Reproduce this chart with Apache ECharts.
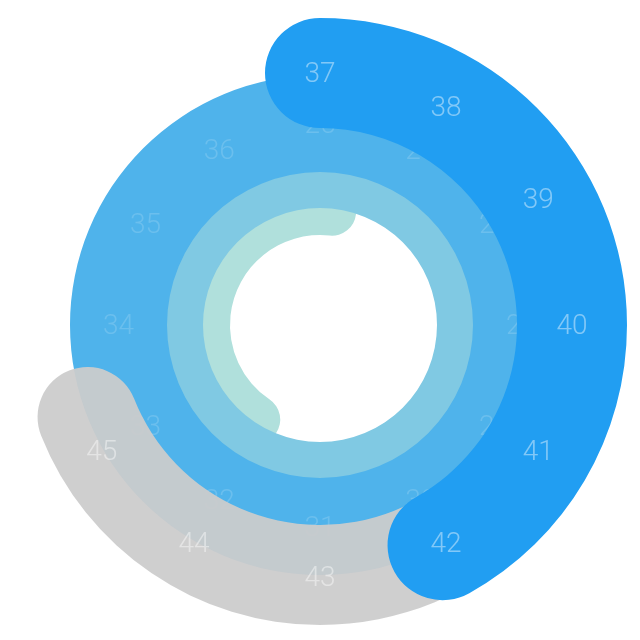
<!DOCTYPE html>
<html>
<head>
<meta charset="utf-8">
<script src="https://cdn.jsdelivr.net/npm/echarts@6/dist/echarts.min.js"></script>
<style>
  html, body { margin: 0; padding: 0; background: #fff; }
  #chart { width: 640px; height: 640px; }
</style>
</head>
<body>
<div id="chart"></div>
<script>
  // angle values are in label steps: one step = 30deg, 12 steps per turn
  const stepsPerTurn = 12;
  const fullRing = 12;

  const tealValue = 5.07;
  const tealStartAngle = 236;
  const trackValue = 8.28;
  const mainValue = 5.03;

  const midLabels = ['25', '26', '27', '28', '29', '30', '31', '32', '33', '34', '35', '36'];
  const outerLabels = ['37', '38', '39', '40', '41', '42', '43', '44', '45'];

  const center = [320, 325];

  const rings = [
    { radius: [90, 138], start: tealStartAngle },  // teal, mostly under the pale ring
    { radius: [117, 170], start: 90 },
    { radius: [153, 250], start: 90 },
    { radius: [200, 300], start: 90 },             // grey track
    { radius: [197, 307], start: 90 }              // main blue
  ];

  const labelFont = { fontSize: 28, fontFamily: 'Roboto', fontWeight: 300, offset: [0, 2] };

  function barSeries(idx, value, color, z, roundCap) {
    return {
      type: 'bar',
      coordinateSystem: 'polar',
      polarIndex: idx,
      data: [value],
      roundCap: roundCap,
      barCategoryGap: '0%',
      itemStyle: { color: color },
      z: z,
      silent: true
    };
  }

  function labelSeries(idx, labels, color, z) {
    return {
      type: 'scatter',
      coordinateSystem: 'polar',
      polarIndex: idx,
      symbolSize: 1,
      itemStyle: { color: 'rgba(0,0,0,0)' },
      data: labels.map((t, i) => ({ name: t, value: [0, i] })),
      label: Object.assign({
        show: true,
        position: 'inside',
        formatter: '{b}',
        color: color
      }, labelFont),
      z: z,
      silent: true
    };
  }

  const chart = echarts.init(document.getElementById('chart'));
  chart.setOption({
    animation: false,
    polar: rings.map(r => ({ center: center, radius: r.radius })),
    angleAxis: rings.map((r, i) => ({
      type: 'value',
      polarIndex: i,
      min: 0,
      max: stepsPerTurn,
      startAngle: r.start,
      show: false
    })),
    radiusAxis: rings.map((r, i) => ({
      type: 'category',
      polarIndex: i,
      data: ['r'],
      show: false
    })),
    series: [
      barSeries(0, tealValue, '#b0e0dc', 1, true),
      barSeries(1, fullRing, '#80c9e3', 2, false),
      barSeries(2, fullRing, '#4fb3eb', 3, false),
      labelSeries(2, midLabels, 'rgba(255,255,255,0.2)', 4),
      barSeries(3, trackValue, 'rgba(204,204,204,0.94)', 5, true),
      barSeries(4, mainValue, '#219ef2', 6, true),
      labelSeries(4, outerLabels, 'rgba(255,255,255,0.55)', 7)
    ]
  });
</script>
</body>
</html>
